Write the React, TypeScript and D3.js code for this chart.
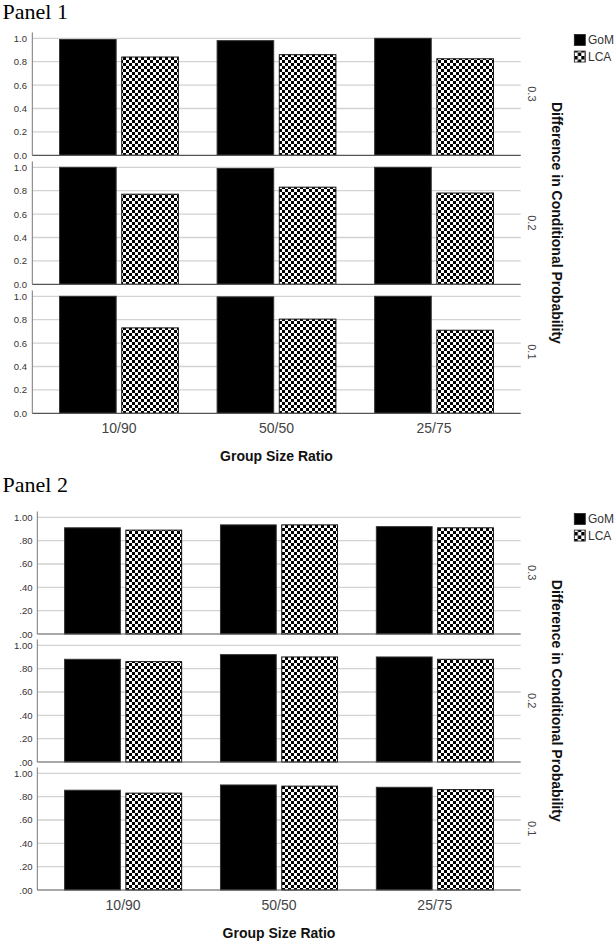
import React from "react";
import * as d3 from "d3";

// ---- data ----
const groups = ["10/90", "50/50", "25/75"];
const seriesNames = ["GoM", "LCA"];
const diffLevels = ["0.3", "0.2", "0.1"];

const panel1GoM = [
  [0.99, 0.98, 1.0],
  [1.0, 0.99, 1.0],
  [1.0, 0.995, 1.0],
];
const panel1LCA = [
  [0.84, 0.86, 0.825],
  [0.77, 0.83, 0.78],
  [0.73, 0.805, 0.71],
];
const panel2GoM = [
  [0.91, 0.935, 0.92],
  [0.88, 0.92, 0.9],
  [0.855, 0.9, 0.88],
];
const panel2LCA = [
  [0.89, 0.935, 0.91],
  [0.86, 0.9, 0.88],
  [0.83, 0.89, 0.86],
];
const yTicks = [0, 0.2, 0.4, 0.6, 0.8, 1.0];

const panelTitles = ["Panel 1", "Panel 2"];
const xTitle = "Group Size Ratio";
const rightTitle = "Difference in Conditional Probability";

const SANS = "'Liberation Sans', Arial, sans-serif";
const SERIF = "'Liberation Serif', 'Times New Roman', serif";

type PanelCfg = {
  title: string;
  titleY: number;
  axisX: number;
  firstZero: number;
  subStep: number;
  unitH: number;
  gom: number[][];
  lca: number[][];
  fmt: (v: number) => string;
  labelRight: number;
  paddingInner: number;
  paddingOuter: number;
};

const fmt1 = d3.format(".1f");
const fmt2 = (v: number) => {
  const s = d3.format(".2f")(v);
  return s.startsWith("0") ? s.slice(1) : s;
};

const panels: PanelCfg[] = [
  {
    title: panelTitles[0],
    titleY: 19,
    axisX: 32.3,
    firstZero: 155.3,
    subStep: 129,
    unitH: 117,
    gom: panel1GoM,
    lca: panel1LCA,
    fmt: fmt1,
    labelRight: 27,
    paddingInner: 0.246,
    paddingOuter: 0.173,
  },
  {
    title: panelTitles[1],
    titleY: 491.5,
    axisX: 37.3,
    firstZero: 634,
    subStep: 128,
    unitH: 116.7,
    gom: panel2GoM,
    lca: panel2LCA,
    fmt: fmt2,
    labelRight: 32.5,
    paddingInner: 0.249,
    paddingOuter: 0.175,
  },
];

const RIGHT = 520.7;

function Panel({ cfg, idx }: { cfg: PanelCfg; idx: number }) {
  const x0 = d3
    .scaleBand<string>()
    .domain(groups)
    .range([cfg.axisX, RIGHT])
    .paddingInner(cfg.paddingInner)
    .paddingOuter(cfg.paddingOuter);
  const x1 = d3
    .scaleBand<string>()
    .domain(seriesNames)
    .range([0, x0.bandwidth()])
    .paddingInner(0.09);

  const topOfPlot = cfg.firstZero - cfg.unitH * 1.05;
  const lastZero = cfg.firstZero + cfg.subStep * (diffLevels.length - 1);
  const midY = (topOfPlot + lastZero) / 2;

  return (
    <g>
      <text x={2.5} y={cfg.titleY} fontFamily={SERIF} fontSize={22} fill="#000">
        {cfg.title}
      </text>
      {diffLevels.map((lvl, si) => {
        const zero = cfg.firstZero + cfg.subStep * si;
        const y = d3
          .scaleLinear()
          .domain([0, 1])
          .range([zero, zero - cfg.unitH]);
        const top = y(1.05);
        const values = [cfg.gom[si], cfg.lca[si]];
        return (
          <g key={lvl}>
            {yTicks.slice(1).map((t) => (
              <line
                key={t}
                x1={cfg.axisX}
                x2={RIGHT}
                y1={y(t)}
                y2={y(t)}
                stroke="#d2d2d2"
                strokeWidth={1.3}
              />
            ))}
            {yTicks.map((t) => (
              <text
                key={"l" + t}
                x={cfg.labelRight}
                y={y(t)}
                textAnchor="end"
                dominantBaseline="central"
                fontFamily={SANS}
                fontSize={9.5}
                fill="#333"
              >
                {cfg.fmt(t)}
              </text>
            ))}
            {groups.map((g, gi) =>
              seriesNames.map((s, k) => {
                const v = values[k][gi];
                const bx = (x0(g) as number) + (x1(s) as number);
                return (
                  <rect
                    key={g + s}
                    x={bx}
                    y={y(v)}
                    width={x1.bandwidth()}
                    height={zero - y(v)}
                    fill={k === 0 ? "#000" : `url(#checker${idx})`}
                    stroke={k === 0 ? "#333" : "#111"}
                    strokeWidth={1}
                  />
                );
              })
            )}
            <line x1={cfg.axisX} x2={cfg.axisX} y1={top} y2={zero} stroke="#777" strokeWidth={1} />
            <line x1={cfg.axisX} x2={RIGHT} y1={zero} y2={zero} stroke="#555" strokeWidth={1.2} />
            <text
              transform={`translate(531.7,${(top + zero) / 2}) rotate(90)`}
              textAnchor="middle"
              dominantBaseline="central"
              fontFamily={SANS}
              fontSize={11}
              fill="#444"
            >
              {lvl}
            </text>
          </g>
        );
      })}
      {groups.map((g) => (
        <text
          key={g}
          x={(x0(g) as number) + x0.bandwidth() / 2}
          y={lastZero + 15}
          textAnchor="middle"
          dominantBaseline="central"
          fontFamily={SANS}
          fontSize={14}
          fill="#444"
        >
          {g}
        </text>
      ))}
      <text
        x={(x0(groups[1]) as number) + x0.bandwidth() / 2}
        y={lastZero + 42.5}
        textAnchor="middle"
        dominantBaseline="central"
        fontFamily={SANS}
        fontSize={14}
        fontWeight="bold"
        fill="#111"
      >
        {xTitle}
      </text>
      <text
        transform={`translate(557,${midY}) rotate(90)`}
        textAnchor="middle"
        dominantBaseline="central"
        fontFamily={SANS}
        fontSize={14}
        fontWeight="bold"
        fill="#111"
      >
        {rightTitle}
      </text>
      {seriesNames.map((s, k) => (
        <g key={s}>
          <rect
            x={574.3}
            y={topOfPlot + 2 + k * 16.6}
            width={11}
            height={11}
            fill={k === 0 ? "#000" : `url(#checkerL${idx})`}
            stroke="#222"
            strokeWidth={0.8}
          />
          <text
            x={588}
            y={topOfPlot + 2 + k * 16.6 + 5.5}
            dominantBaseline="central"
            fontFamily={SANS}
            fontSize={12}
            fill="#333"
          >
            {s}
          </text>
        </g>
      ))}
    </g>
  );
}

export default function App() {
  return (
    <div style={{ position: "absolute", left: 0, top: 0 }}>
      <svg width={615} height={944} style={{ display: "block", background: "#fff" }}>
        <defs>
          {[0, 1].map((i) => (
            <React.Fragment key={i}>
              <pattern id={`checker${i}`} patternUnits="userSpaceOnUse" width={6} height={6}>
                <rect width={6} height={6} fill="#fff" />
                <rect x={0} y={0} width={3} height={3} fill="#000" />
                <rect x={3} y={3} width={3} height={3} fill="#000" />
              </pattern>
              <pattern id={`checkerL${i}`} patternUnits="userSpaceOnUse" width={7} height={7} x={574.3} y={0}>
                <rect width={7} height={7} fill="#fff" />
                <rect x={0} y={0} width={3.5} height={3.5} fill="#000" />
                <rect x={3.5} y={3.5} width={3.5} height={3.5} fill="#000" />
              </pattern>
            </React.Fragment>
          ))}
        </defs>
        <rect width={615} height={944} fill="#fff" />
        {panels.map((p, i) => (
          <Panel key={i} cfg={p} idx={i} />
        ))}
      </svg>
    </div>
  );
}
